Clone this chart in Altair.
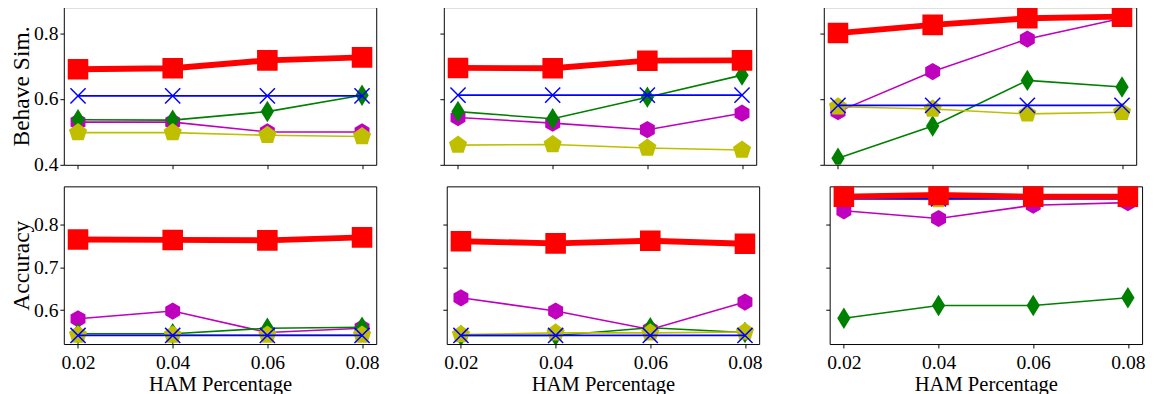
import altair as alt
import pandas as pd

x_vals = [0.02, 0.04, 0.06, 0.08]
x_ticks = [0.02, 0.04, 0.06, 0.08]

# Behave Sim. (top row), one dict per panel
bs_p1 = {
    "magenta": [0.530, 0.530, 0.500, 0.500],
    "green":   [0.537, 0.536, 0.562, 0.612],
    "yellow":  [0.498, 0.498, 0.490, 0.486],
    "blue":    [0.610, 0.610, 0.610, 0.610],
    "red":     [0.691, 0.694, 0.718, 0.727],
}
bs_p2 = {
    "magenta": [0.544, 0.527, 0.507, 0.557],
    "green":   [0.562, 0.540, 0.606, 0.673],
    "yellow":  [0.460, 0.462, 0.451, 0.445],
    "blue":    [0.612, 0.612, 0.612, 0.612],
    "red":     [0.695, 0.694, 0.717, 0.718],
}
bs_p3 = {
    "magenta": [0.562, 0.684, 0.783, 0.846],
    "green":   [0.420, 0.518, 0.657, 0.637],
    "yellow":  [0.577, 0.570, 0.555, 0.560],
    "blue":    [0.581, 0.581, 0.581, 0.581],
    "red":     [0.801, 0.826, 0.846, 0.851],
}
# Accuracy (bottom row)
acc_p1 = {
    "magenta": [0.580, 0.598, 0.548, 0.558],
    "green":   [0.545, 0.545, 0.558, 0.560],
    "yellow":  [0.542, 0.542, 0.542, 0.542],
    "blue":    [0.541, 0.541, 0.541, 0.541],
    "red":     [0.765, 0.764, 0.763, 0.770],
}
acc_p2 = {
    "magenta": [0.629, 0.598, 0.555, 0.619],
    "green":   [0.541, 0.541, 0.559, 0.548],
    "yellow":  [0.543, 0.547, 0.547, 0.549],
    "blue":    [0.541, 0.541, 0.541, 0.541],
    "red":     [0.761, 0.756, 0.762, 0.755],
}
acc_p3 = {
    "magenta": [0.832, 0.814, 0.845, 0.851],
    "green":   [0.581, 0.611, 0.611, 0.629],
    "yellow":  [0.862, 0.858, 0.862, 0.862],
    "blue":    [0.860, 0.860, 0.860, 0.860],
    "red":     [0.865, 0.869, 0.865, 0.865],
}

draw_order = ["magenta", "green", "yellow", "blue", "red"]

style = {
    "magenta": dict(color="#bf00bf", lw=1.6, shape="M0,-1L0.866,-0.5L0.866,0.5L0,1L-0.866,0.5L-0.866,-0.5Z", size=310, filled=True),
    "green":   dict(color="#008000", lw=1.6, shape="M0,-1L0.62,0L0,1L-0.62,0Z", size=480, filled=True),
    "yellow":  dict(color="#bfbf00", lw=1.6, shape="M0,-1L0.951,-0.309L0.588,0.809L-0.588,0.809L-0.951,-0.309Z", size=380, filled=True),
    "blue":    dict(color="#0000ff", lw=1.8, shape="M-1,-1L1,1M-1,1L1,-1", size=240, filled=False),
    "red":     dict(color="#ff0000", lw=6, shape="square", size=441, filled=True),
}

FONT = "Liberation Serif"
PW, PH = 319, 161


def panel(data, ydomain, yticks, ytitle, first_col, bottom_row):
    xaxis = alt.Axis(
        values=x_ticks, format=".2f", labels=bottom_row,
        title="HAM Percentage" if bottom_row else None,
        tickSize=4, labelPadding=5, titlePadding=1,
        labelFont=FONT, titleFont=FONT, labelFontSize=20, titleFontSize=21,
        titleFontWeight="normal", labelColor="#000000", titleColor="#000000",
    )
    yaxis = alt.Axis(
        values=yticks, format=".1f", labels=first_col,
        title=ytitle if first_col else None,
        tickSize=4, labelPadding=2, titlePadding=0,
        labelFont=FONT, titleFont=FONT, labelFontSize=20, titleFontSize=24,
        titleFontWeight="normal", labelColor="#000000", titleColor="#000000",
    )
    xenc = alt.X("x:Q", scale=alt.Scale(domain=[0.017, 0.083], nice=False, zero=False), axis=xaxis)
    yenc = alt.Y("y:Q", scale=alt.Scale(domain=ydomain, nice=False, zero=False), axis=yaxis)
    layers = []
    for s in draw_order:
        st = style[s]
        df = pd.DataFrame({"x": x_vals, "y": data[s]})
        base = alt.Chart(df)
        layers.append(base.mark_line(color=st["color"], strokeWidth=st["lw"], clip=True).encode(x=xenc, y=yenc))
        if st["filled"]:
            pt = base.mark_point(shape=st["shape"], size=st["size"], filled=True,
                                 color=st["color"], opacity=1, strokeWidth=0, clip=True)
        else:
            pt = base.mark_point(shape=st["shape"], size=st["size"], filled=False,
                                 color=st["color"], opacity=1, strokeWidth=1.5, clip=True)
        layers.append(pt.encode(x=xenc, y=yenc))
    return alt.layer(*layers).properties(width=PW, height=PH)


top_dom = [0.4, 0.88]
top_ticks = [0.4, 0.6, 0.8]
bot_dom = [0.521, 0.889]
bot_ticks = [0.6, 0.7, 0.8]

row1 = alt.hconcat(
    panel(bs_p1, top_dom, top_ticks, "Behave Sim.", True, False),
    panel(bs_p2, top_dom, top_ticks, "Behave Sim.", False, False),
    panel(bs_p3, top_dom, top_ticks, "Behave Sim.", False, False),
    spacing=63,
)
row2 = alt.hconcat(
    panel(acc_p1, bot_dom, bot_ticks, "Accuracy", True, True),
    panel(acc_p2, bot_dom, bot_ticks, "Accuracy", False, True),
    panel(acc_p3, bot_dom, bot_ticks, "Accuracy", False, True),
    spacing=63,
)

chart = alt.vconcat(row1, row2, spacing=10).properties(
    padding={"left": 1, "top": -6, "right": 0, "bottom": 0}
).configure(
    font=FONT
).configure_view(
    stroke="#000000", strokeWidth=1
).configure_axis(
    tickColor="#000000", tickWidth=1, domain=False, grid=False,
)

chart.save("out.html", embed_options={"renderer": "svg", "actions": False})
